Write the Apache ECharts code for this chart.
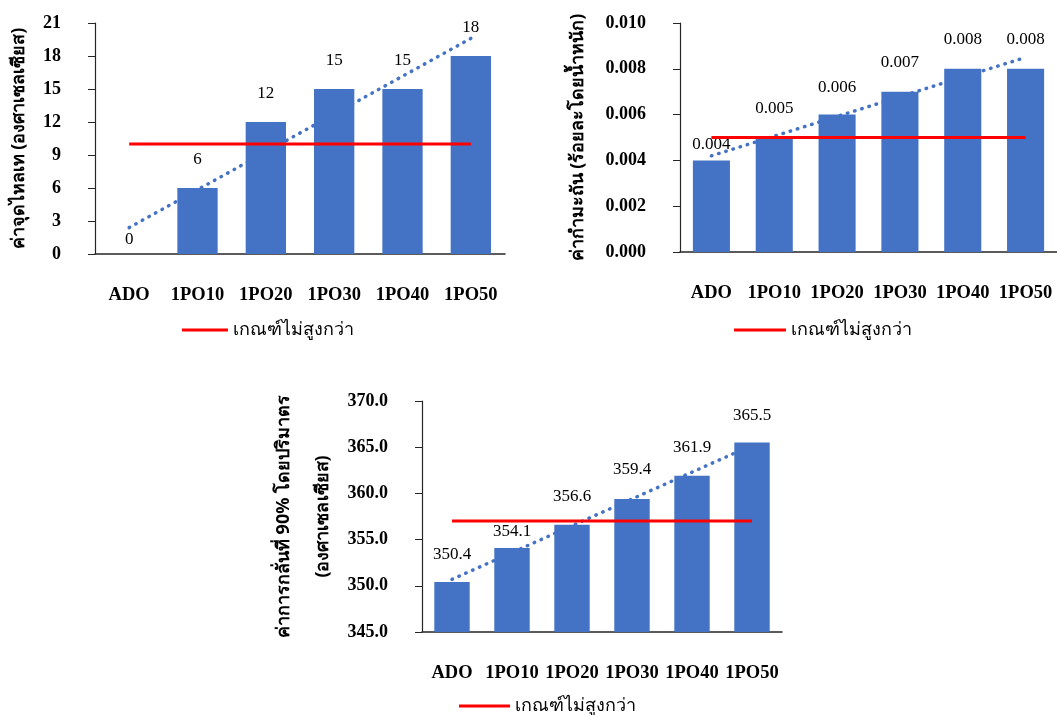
<!DOCTYPE html>
<html>
<head>
<meta charset="utf-8">
<script src="https://cdn.jsdelivr.net/npm/echarts@6/dist/echarts.min.js"></script>
<style>
html,body{margin:0;padding:0;background:#fff;}
#main{width:1057px;height:715px;}
</style>
</head>
<body>
<div id="main"></div>
<script>
// ---- data ----
const categories = ['ADO', '1PO10', '1PO20', '1PO30', '1PO40', '1PO50'];
const pourPoint = [0, 6, 12, 15, 15, 18];
const sulfur = [0.004, 0.005, 0.006, 0.007, 0.008, 0.008];
const distill90 = [350.4, 354.1, 356.6, 359.4, 361.9, 365.5];
const limitPour = 10;
const limitSulfur = 0.005;
const limitDistill = 357;
// dotted linear trend line end points (first / last category)
const trendPour = [2.4, 19.6];
const trendSulfur = [0.0042, 0.0085];
const trendDistill = [350.7, 365.2];
const legendName = 'เกณฑ์ไม่สูงกว่า';
const yTitles = ['ค่าจุดไหลเท (องศาเซลเซียส)', 'ค่ากำมะถัน (ร้อยละโดยน้ำหนัก)', 'ค่าการกลั่นที่ 90% โดยปริมาตร\n(องศาเซลเซียส)'];

// ---- helpers ----
const SERIF = "'Liberation Serif', 'Times New Roman', serif";
const BLUE = '#4472C4';
const RED = '#FF0000';
const AX = '#262626';

function trendData(ends) {
  return categories.map((c, i) => i === 0 ? ends[0] : (i === categories.length - 1 ? ends[1] : null));
}
function limitData(v) { return categories.map(() => v); }

const grids = [
  {left: 95, top: 23, width: 410, height: 231},
  {left: 680, top: 23, width: 377, height: 229},
  {left: 422, top: 401, width: 360, height: 231}
];
const yCfg = [
  {min: 0, max: 21, interval: 3, dec: 0, nameGap: 64, lineHeight: 24},
  {min: 0, max: 0.01, interval: 0.002, dec: 3, nameGap: 90, lineHeight: 24},
  {min: 345, max: 370, interval: 5, dec: 1, nameGap: 80, lineHeight: 39}
];
const values = [pourPoint, sulfur, distill90];
const limits = [limitPour, limitSulfur, limitDistill];
const trends = [trendPour, trendSulfur, trendDistill];
const labelDist = [
  [6, 20, 20, 20, 20, 20],
  [7, 20, 19, 21, 21, 21],
  [19, 8, 20, 21, 20, 19]
];
const legendPos = [
  {left: 177, top: 316, w: 46},
  {left: 729, top: 316, w: 52},
  {left: 454, top: 692, w: 51}
];

const xAxis = [], yAxis = [], series = [], legend = [];
for (let k = 0; k < 3; k++) {
  xAxis.push({
    type: 'category', gridIndex: k, data: categories,
    axisLine: {lineStyle: {color: AX, width: 1.5}},
    axisTick: {show: false},
    axisLabel: {color: '#000', fontFamily: SERIF, fontWeight: 'bold', fontSize: 18.5, margin: 32, interval: 0}
  });
  const c = yCfg[k];
  yAxis.push({
    type: 'value', gridIndex: k, min: c.min, max: c.max, interval: c.interval,
    splitLine: {show: false},
    axisLine: {show: true, lineStyle: {color: AX, width: 1.2}},
    axisTick: {show: true, length: 7, lineStyle: {color: AX}},
    axisLabel: {color: '#000', fontFamily: SERIF, fontWeight: 'bold', fontSize: 18, margin: 34,
      formatter: v => v.toFixed(c.dec)},
    name: yTitles[k], nameLocation: 'middle', nameRotate: 90, nameGap: c.nameGap,
    nameTextStyle: {color: '#000', fontWeight: 'bold', fontSize: 18, lineHeight: c.lineHeight,
      fontFamily: "'Noto Sans', 'DejaVu Sans', sans-serif"}
  });
  series.push({
    name: 'trend' + k, type: 'line', xAxisIndex: k, yAxisIndex: k, z: 1,
    data: trendData(trends[k]), connectNulls: true, symbol: 'none', silent: true,
    lineStyle: {color: BLUE, width: 3.5, type: [0.5, 7], cap: 'round'}
  });
  series.push({
    name: 'bar' + k, type: 'bar', xAxisIndex: k, yAxisIndex: k, z: 2,
    barWidth: '59%',
    itemStyle: {color: BLUE},
    data: values[k].map((v, i) => ({value: v, label: {distance: labelDist[k][i]}})),
    label: {show: true, position: 'top', color: '#000', fontFamily: SERIF, fontSize: 17,
      formatter: p => p.value.toFixed(yCfg[k].dec)}
  });
  series.push({
    name: legendName, type: 'line', xAxisIndex: k, yAxisIndex: k, z: 3,
    data: limitData(limits[k]), symbol: 'none',
    lineStyle: {color: RED, width: 3}, itemStyle: {color: RED}
  });
  legend.push({
    data: [{name: legendName, icon: 'rect'}],
    left: legendPos[k].left, top: legendPos[k].top,
    itemWidth: legendPos[k].w, itemHeight: 3, itemGap: 4,
    selectedMode: false,
    textStyle: {color: '#000', fontSize: 18, fontFamily: "'Noto Sans', 'DejaVu Sans', sans-serif"}
  });
}

const chart = echarts.init(document.getElementById('main'), null, {renderer: 'canvas'});
chart.setOption({
  animation: false,
  backgroundColor: '#fff',
  grid: grids,
  xAxis, yAxis, series, legend
});
</script>
</body>
</html>
